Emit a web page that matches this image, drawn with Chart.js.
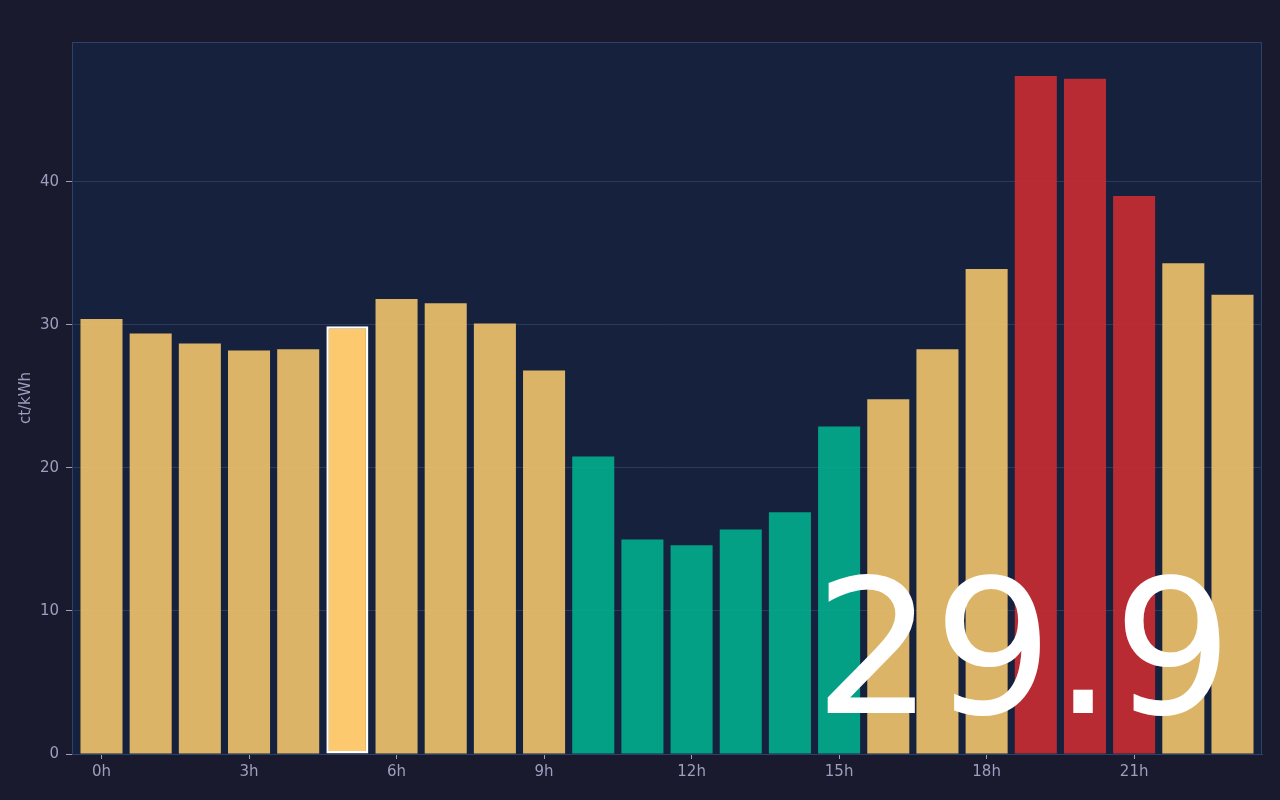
<!DOCTYPE html>
<html>
<head>
<meta charset="utf-8">
<title>Strompreis heute</title>
<script src="https://cdn.jsdelivr.net/npm/chart.js@4.4.1/dist/chart.umd.min.js"></script>
<style>
  html, body { margin: 0; padding: 0; background: #1a1a2e; }
  #wrap { position: relative; width: 1280px; height: 800px; }
  #current {
    position: absolute; left: 814px; top: 554px;
    font-family: "DejaVu Sans", sans-serif; font-size: 188px; line-height: 1;
    color: #ffffff; pointer-events: none; white-space: nowrap;
  }
</style>
</head>
<body>
<div id="wrap">
  <canvas id="priceChart" width="1280" height="800"></canvas>
  <div id="current"></div>
</div>
<script>
// Stunden des Tages
const hours = [0, 1, 2, 3, 4, 5, 6, 7, 8, 9, 10, 11, 12, 13, 14, 15, 16, 17, 18, 19, 20, 21, 22, 23];
// Preis pro Stunde in ct/kWh
const prices = [30.4, 29.4, 28.7, 28.2, 28.3, 29.9, 31.8, 31.5, 30.1, 26.8, 20.8, 15.0,
                14.6, 15.7, 16.9, 22.9, 24.8, 28.3, 33.9, 47.4, 47.2, 39.0, 34.3, 32.1];
// Beschriftete Stunden auf der x-Achse
const hourTicks = [0, 3, 6, 9, 12, 15, 18, 21];
// Beschriftungen der y-Achse
const priceTicks = [0, 10, 20, 30, 40];
const currentHour = 5;
const unitLabel = 'ct/kWh';

// Farbe je nach Preis
function barColor(v, i) {
  if (i === currentHour) return '#fdc96f';
  if (v < 23) return 'rgba(2, 174, 142, 0.9)';
  if (v > 35) return 'rgba(203, 44, 50, 0.9)';
  return 'rgba(241, 196, 108, 0.9)';
}

document.getElementById('current').textContent = prices[currentHour].toFixed(1);

const textColor = '#9e9ebe';
const boxColor = '#2e4169';

// Hintergrund und Rahmen der Zeichenfläche
const areaBox = {
  id: 'areaBox',
  beforeDraw(chart) {
    const ctx = chart.ctx, a = chart.chartArea;
    ctx.save();
    ctx.fillStyle = '#1a1a2e';
    ctx.fillRect(0, 0, chart.width, chart.height);
    ctx.fillStyle = '#16213e';
    ctx.fillRect(a.left, a.top, a.right - a.left, a.bottom - a.top);
    ctx.strokeStyle = boxColor;
    ctx.lineWidth = 1;
    ctx.strokeRect(a.left + 0.5, a.top + 0.5, a.right - a.left - 1, a.bottom - a.top);
    ctx.restore();
  }
};

Chart.defaults.font.family = '"DejaVu Sans", sans-serif';
Chart.defaults.font.size = 15;
Chart.defaults.color = textColor;

const ctx = document.getElementById('priceChart').getContext('2d');
new Chart(ctx, {
  type: 'bar',
  data: {
    datasets: [{
      data: hours.map((h, i) => ({ x: h, y: prices[i] })),
      backgroundColor: prices.map(barColor),
      borderColor: prices.map((v, i) => i === currentHour ? '#ffffff' : 'rgba(0,0,0,0)'),
      borderWidth: prices.map((v, i) => i === currentHour ? 2.5 : 0),
      borderSkipped: false,
      barPercentage: 0.95,
      categoryPercentage: 0.9
    }]
  },
  options: {
    responsive: false,
    animation: false,
    layout: { padding: { top: 42, right: 18, bottom: 0, left: 0 } },
    plugins: { legend: { display: false }, tooltip: { enabled: false } },
    scales: {
      x: {
        type: 'linear',
        offset: false,
        min: -0.6,
        max: 23.6,
        afterBuildTicks: (scale) => { scale.ticks = hourTicks.map(h => ({ value: h })); },
        afterFit: (scale) => { scale.height = 46; },
        ticks: { callback: (v) => v + 'h', padding: 4, maxRotation: 0, autoSkip: false },
        grid: { offset: false, drawOnChartArea: false, tickLength: 5, tickColor: textColor },
        border: { color: boxColor }
      },
      y: {
        min: 0,
        max: Math.max(...prices) * 1.05,
        afterBuildTicks: (scale) => { scale.ticks = priceTicks.map(v => ({ value: v })); },
        afterFit: (scale) => { scale.width = 72; },
        ticks: { padding: 7 },
        grid: { color: '#2a3a5c', tickLength: 6, tickColor: textColor },
        border: { color: boxColor },
        title: { display: true, text: unitLabel, padding: { top: 17, bottom: 4 } }
      }
    }
  },
  plugins: [areaBox]
});
</script>
</body>
</html>
